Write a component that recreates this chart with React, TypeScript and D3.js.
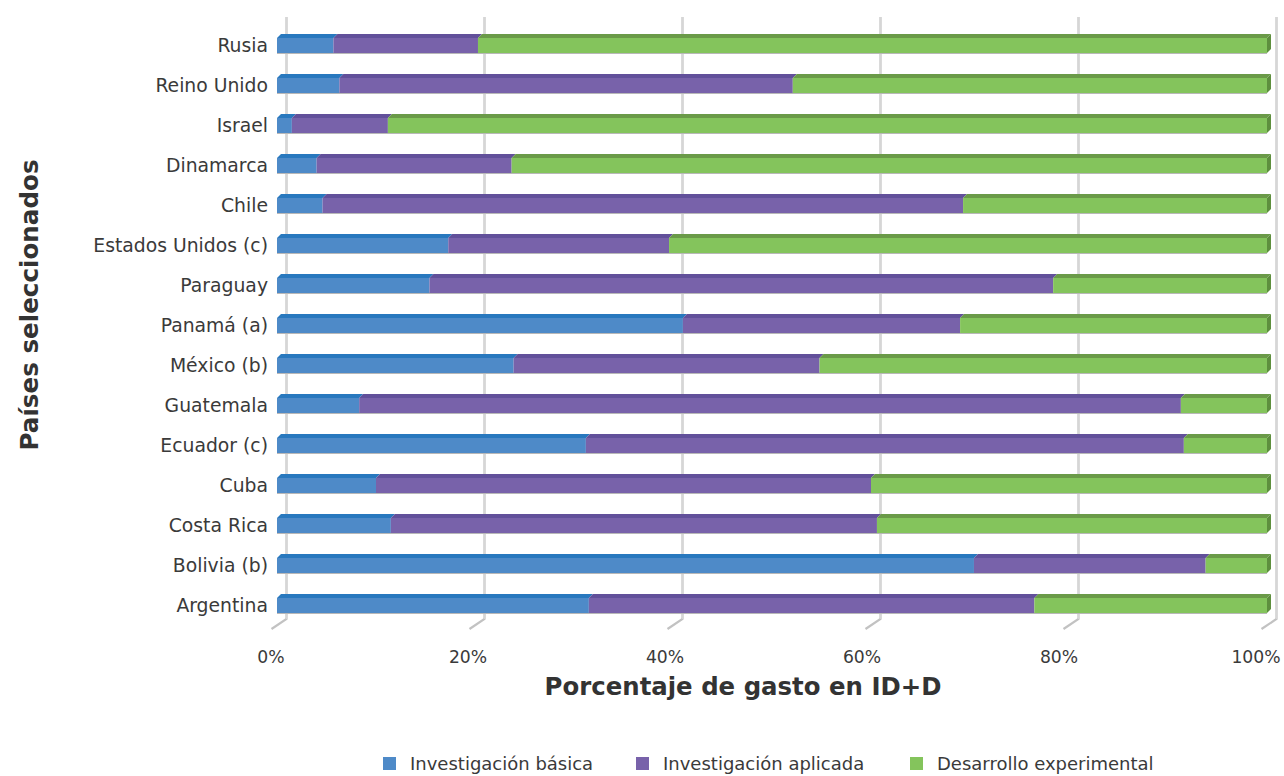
import React from "react";
import * as d3 from "d3";

const countries = [
  "Rusia", "Reino Unido", "Israel", "Dinamarca", "Chile", "Estados Unidos (c)",
  "Paraguay", "Panamá (a)", "México (b)", "Guatemala", "Ecuador (c)", "Cuba",
  "Costa Rica", "Bolivia (b)", "Argentina",
];
const basica = [5.7, 6.3, 1.5, 4.0, 4.6, 17.3, 15.4, 41.0, 23.9, 8.3, 31.2, 10.0, 11.5, 70.4, 31.5];
const aplicada = [14.6, 45.8, 9.7, 19.7, 64.7, 22.3, 63.0, 28.0, 30.9, 83.0, 60.4, 50.0, 49.1, 23.4, 45.0];
const experimental = [79.7, 47.9, 88.8, 76.3, 30.7, 60.4, 21.6, 31.0, 45.2, 8.7, 8.4, 40.0, 39.4, 6.2, 23.5];
const seriesNames = ["Investigación básica", "Investigación aplicada", "Desarrollo experimental"];
const tickValues = [0, 20, 40, 60, 80, 100];

const front = ["#4E8AC8", "#7862AA", "#84C45C"];
const top = ["#2878BE", "#62509A", "#6A9A48"];
const side = ["#2A6BAA", "#574790", "#5E8F3E"];

const W = 1284;
const H = 776;
const FONT = "'DejaVu Sans', sans-serif";

export default function App() {
  const x = d3.scaleLinear().domain([0, 100]).range([277, 1267]);
  const xLabel = d3.scaleLinear().domain([0, 100]).range([271, 1256]);
  const y = d3.scaleBand<string>().domain(countries).range([25, 625]).padding(0);
  const barH = 15;
  const dz = 4;
  const data = countries.map((c, i) => [basica[i], aplicada[i], experimental[i]]);
  const stack = data.map((vals) => {
    let acc = 0;
    return vals.map((v) => {
      const s = acc;
      acc += v;
      return [s, acc];
    });
  });
  const floorY = 619;

  return (
    <svg width={W} height={H} style={{ position: "absolute", left: 0, top: 0, background: "#fff" }} fontFamily={FONT}>
      {tickValues.map((t) => {
        const bx = x(t) + 9.5;
        const fx = x(t) - 5.5;
        return (
          <g key={t}>
            <path d={`M${bx},17 L${bx},${floorY} L${fx},${floorY + 10}`} fill="none" stroke="#c2c2c2" strokeWidth={2.2} />
            <path d={`M${bx},17 L${bx},${floorY}`} fill="none" stroke="#dadada" strokeWidth={0.8} />
            <text x={xLabel(t)} y={663} textAnchor="middle" fontSize={17.2} fill="#3a3a3a">{t}%</text>
          </g>
        );
      })}
      {countries.map((c, i) => {
        const cy = (y(c) as number) + y.bandwidth() / 2;
        const y0 = cy - 7;
        return (
          <g key={c}>
            <rect x={x(0)} y={y0 + barH - 0.5} width={x(100) - x(0)} height={1.5} fill="#b8b8b8" />
            {stack[i].map(([s, e], k) => {
              const x0 = x(s);
              const x1 = x(e);
              return (
                <g key={k}>
                  <path d={`M${x0},${y0} L${x0 + dz},${y0 - dz} L${x1 + dz},${y0 - dz} L${x1},${y0} Z`} fill={top[k]} />
                  <rect x={x0} y={y0} width={Math.max(0, x1 - x0)} height={barH} fill={front[k]} />
                </g>
              );
            })}
            <path
              d={`M${x(100)},${y0} L${x(100) + dz},${y0 - dz} L${x(100) + dz},${y0 + barH - dz} L${x(100)},${y0 + barH} Z`}
              fill={side[2]}
            />
            <text x={268} y={cy + 7} textAnchor="end" fontSize={18.8} fill="#3a3a3a">{c}</text>
          </g>
        );
      })}
      <text x={743} y={695} textAnchor="middle" fontSize={24.4} fontWeight="bold" fill="#333">Porcentaje de gasto en ID+D</text>
      <text transform="translate(38,305) rotate(-90)" textAnchor="middle" fontSize={24.6} fontWeight="bold" fill="#333">Países seleccionados</text>
      {seriesNames.map((n, k) => {
        const lx = [383, 636, 910][k];
        return (
          <g key={n}>
            <rect x={lx} y={757} width={13} height={13} fill={front[k]} />
            <text x={lx + 27} y={770} fontSize={18} fill="#3a3a3a">{n}</text>
          </g>
        );
      })}
    </svg>
  );
}
